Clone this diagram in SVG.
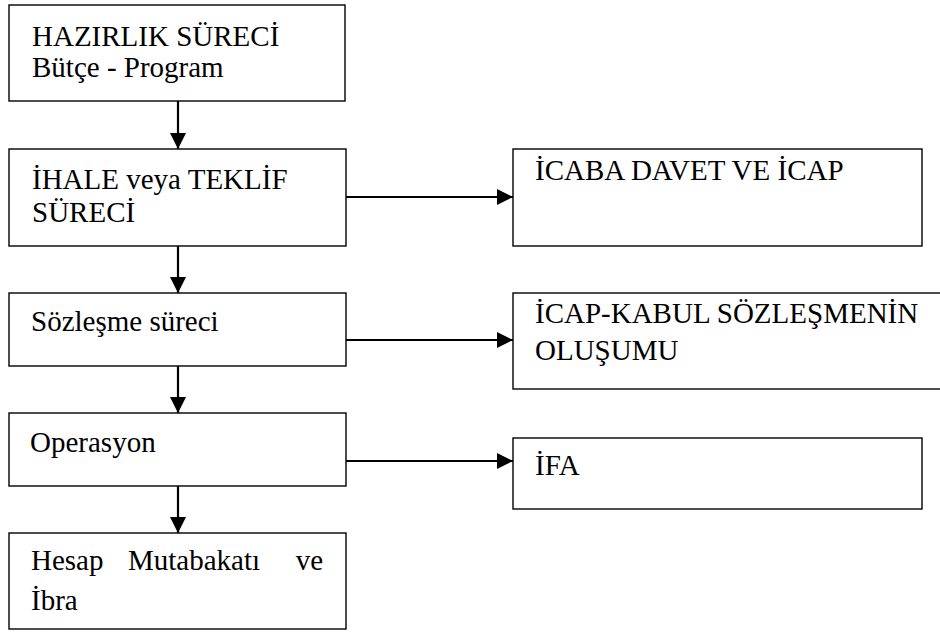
<svg xmlns="http://www.w3.org/2000/svg" width="940" height="632" viewBox="0 0 940 632">
<style>
.box{fill:#fff;stroke:#000;stroke-width:1.4}
.t{font-family:"Liberation Serif","DejaVu Serif",serif;font-size:29px;fill:#000}
.c{stroke:#000;stroke-width:2.2;fill:none}
</style>
<defs>
<marker id="ah" markerUnits="userSpaceOnUse" markerWidth="16" markerHeight="16" viewBox="0 0 16 16" refX="16" refY="8" orient="auto">
<path d="M0,0 L16,8 L0,16 Z" fill="#000"/>
</marker>
</defs>
<rect width="940" height="632" fill="#fff"/>
<g id="n1"><rect class="box" x="9" y="5" width="336" height="96"/>
<text class="t" x="32" y="46">HAZIRLIK SÜRECİ</text>
<text class="t" x="32" y="77">Bütçe - Program</text></g>
<g id="n2"><rect class="box" x="9" y="149" width="337" height="97"/>
<text class="t" x="32" y="189">İHALE veya TEKLİF</text>
<text class="t" x="32" y="222">SÜRECİ</text></g>
<g id="n3"><rect class="box" x="9" y="293" width="337" height="73"/>
<text class="t" x="31" y="331">Sözleşme süreci</text></g>
<g id="n4"><rect class="box" x="9" y="413" width="337" height="73"/>
<text class="t" x="30" y="452">Operasyon</text></g>
<g id="n5"><rect class="box" x="9" y="533" width="337" height="96"/>
<text class="t" x="31" y="570">Hesap</text>
<text class="t" x="128" y="570">Mutabakatı</text>
<text class="t" x="323" y="570" text-anchor="end">ve</text>
<text class="t" x="31" y="610">İbra</text></g>
<g id="r1"><rect class="box" x="513" y="149" width="409" height="97"/>
<text class="t" x="535" y="180">İCABA DAVET VE İCAP</text></g>
<g id="r2"><rect class="box" x="513" y="293" width="440" height="96"/>
<text class="t" x="535" y="323">İCAP-KABUL SÖZLEŞMENİN</text>
<text class="t" x="535" y="360">OLUŞUMU</text></g>
<g id="r3"><rect class="box" x="513" y="438" width="409" height="71"/>
<text class="t" x="535" y="475">İFA</text></g>
<g id="connectors">
<line class="c" x1="178" y1="101" x2="178" y2="149" marker-end="url(#ah)"/>
<line class="c" x1="178" y1="246" x2="178" y2="293" marker-end="url(#ah)"/>
<line class="c" x1="178" y1="366" x2="178" y2="413" marker-end="url(#ah)"/>
<line class="c" x1="178" y1="486" x2="178" y2="533" marker-end="url(#ah)"/>
<line class="c" x1="346" y1="197" x2="513" y2="197" marker-end="url(#ah)"/>
<line class="c" x1="346" y1="340" x2="513" y2="340" marker-end="url(#ah)"/>
<line class="c" x1="346" y1="461" x2="513" y2="461" marker-end="url(#ah)"/>
</g>
</svg>
